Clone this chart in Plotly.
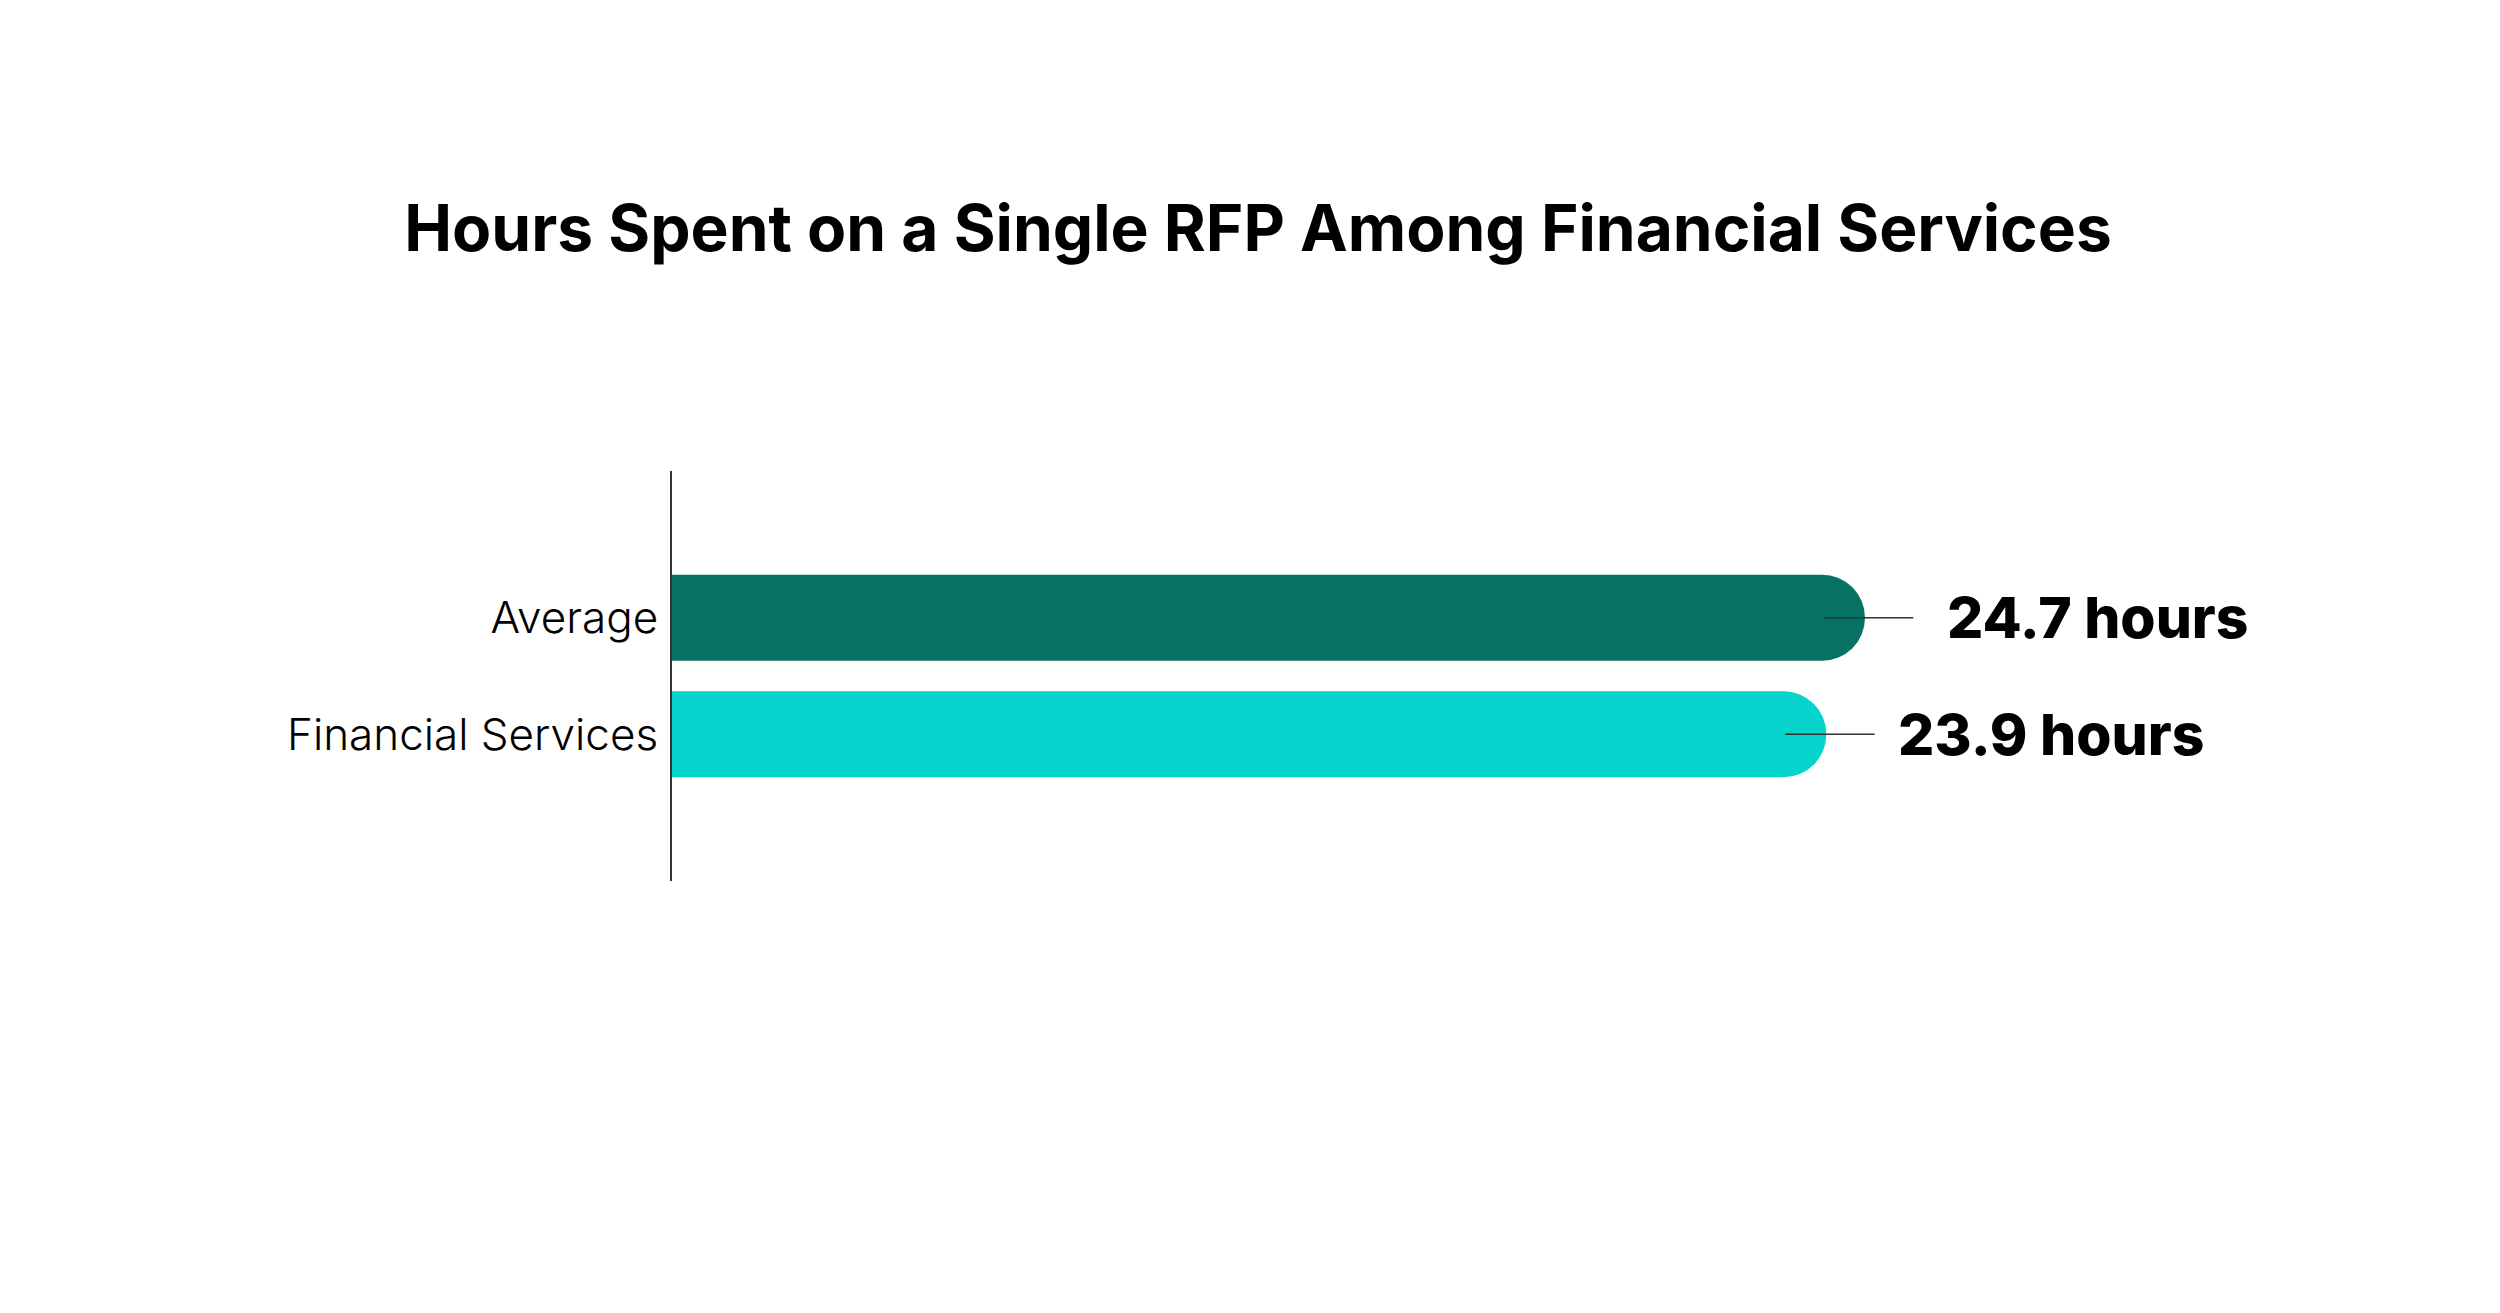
import plotly.graph_objects as go

categories = ["Average", "Financial Services"]
hours = [24.7, 23.9]
value_labels = ["24.7 hours", "23.9 hours"]
bar_colors = ["#077264", "#05D4CC"]
title_text = "Hours Spent on a Single RFP Among Financial Services"

fig = go.Figure()

fig.add_trace(go.Bar(
    x=hours,
    y=categories,
    orientation="h",
    width=0.74,
    marker=dict(color=bar_colors, cornerradius="50%", line=dict(width=0)),
    hoverinfo="skip",
    showlegend=False,
))

# leader lines from inside bar end to the label
for cat, v in zip(categories, hours):
    fig.add_trace(go.Scatter(
        x=[v - 0.85, v + 1.0],
        y=[cat, cat],
        mode="lines",
        line=dict(color="#333333", width=1.5),
        hoverinfo="skip",
        showlegend=False,
    ))

label_offsets = [1.65, 1.45]
for cat, v, lab, off in zip(categories, hours, value_labels, label_offsets):
    fig.add_annotation(
        x=v + off, y=cat, xref="x", yref="y",
        text=lab, showarrow=False,
        xanchor="left", yanchor="middle",
        font=dict(family="Inter", size=57, color="#000000", weight=800),
    )

fig.update_layout(
    width=2500, height=1313,
    paper_bgcolor="white", plot_bgcolor="white",
    margin=dict(l=664, r=387, t=463, b=440),
    title=dict(
        text=title_text,
        x=0.5, xref="container", xanchor="center",
        y=1 - 221 / 1313, yref="container", yanchor="middle",
        font=dict(family="Inter", size=64, color="#000000", weight=700),
    ),
    bargap=0.26,
)

fig.update_xaxes(
    range=[0, 30], showgrid=False, zeroline=False, showline=False,
    showticklabels=False, ticks="",
)
fig.update_yaxes(
    categoryorder="array", categoryarray=categories,
    range=[2.26, -1.26],
    showgrid=False, zeroline=False,
    showline=True, linecolor="#333333", linewidth=2,
    ticks="", ticklabelstandoff=3,
    tickfont=dict(family="Inter", size=44, color="#000000", weight=300),
)

fig.write_html("out.html")
